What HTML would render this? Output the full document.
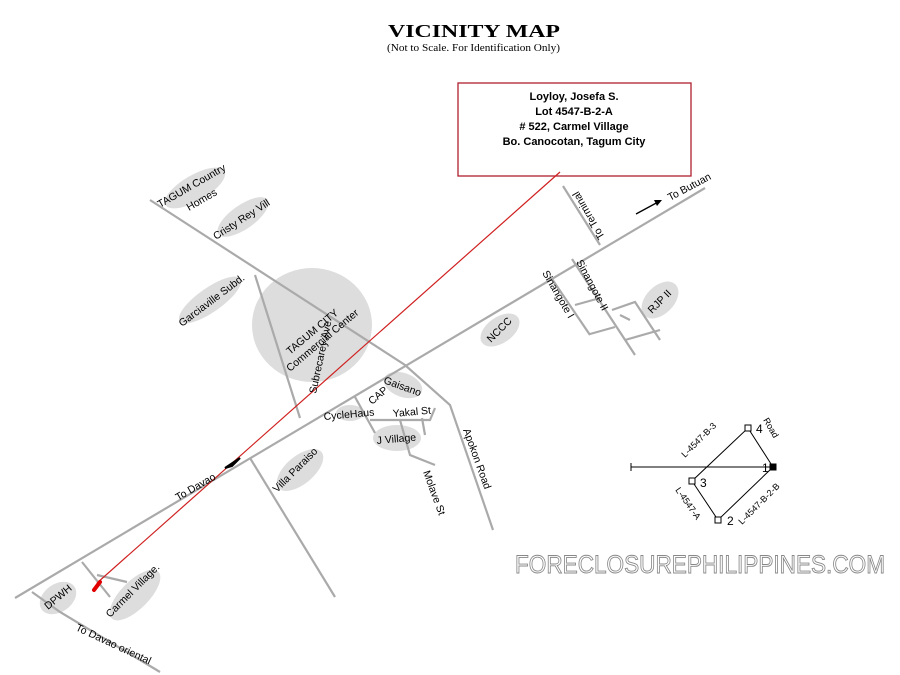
<!DOCTYPE html>
<html><head><meta charset="utf-8"><style>
html,body{margin:0;padding:0;background:#fff;}
svg{display:block;}
text{font-family:"Liberation Sans",sans-serif;font-size:10.5px;fill:#000;}
</style></head><body>
<svg width="900" height="675" viewBox="0 0 900 675" xmlns="http://www.w3.org/2000/svg">
<rect width="900" height="675" fill="#fff"/>
<text x="388" y="37" textLength="172" lengthAdjust="spacingAndGlyphs" style="font-family:'Liberation Serif',serif;font-size:18px;font-weight:bold">VICINITY MAP</text>
<text x="387" y="51" textLength="173" lengthAdjust="spacingAndGlyphs" style="font-family:'Liberation Serif',serif;font-size:10px">(Not to Scale. For Identification Only)</text>

<rect x="458" y="83" width="233" height="93" fill="none" stroke="#b02030" stroke-width="1.3"/>
<g text-anchor="middle">
<text x="574" y="100" style="font-size:11px;font-weight:bold">Loyloy, Josefa S.</text>
<text x="574" y="115" style="font-size:11px;font-weight:bold">Lot 4547-B-2-A</text>
<text x="574" y="130" style="font-size:11px;font-weight:bold"># 522, Carmel Village</text>
<text x="574" y="145" style="font-size:11px;font-weight:bold">Bo. Canocotan, Tagum City</text>
</g>

<g fill="#ddd">
<ellipse cx="312" cy="325" rx="60" ry="57"/>
<ellipse cx="195" cy="188" rx="34" ry="13" transform="rotate(-30 195 188)"/>
<ellipse cx="243" cy="217" rx="30" ry="12" transform="rotate(-35 243 217)"/>
<ellipse cx="210" cy="300" rx="37" ry="12" transform="rotate(-35 210 300)"/>
<ellipse cx="500" cy="330" rx="22" ry="13" transform="rotate(-35 500 330)"/>
<ellipse cx="660" cy="300" rx="22" ry="14" transform="rotate(-45 660 300)"/>
<ellipse cx="403" cy="385" rx="20" ry="12" transform="rotate(20 403 385)"/>
<ellipse cx="397" cy="438" rx="24" ry="13"/>
<ellipse cx="350" cy="413" rx="14" ry="8"/>
<ellipse cx="300" cy="470" rx="28" ry="14" transform="rotate(-40 300 470)"/>
<ellipse cx="58" cy="598" rx="20" ry="14" transform="rotate(-35 58 598)"/>
<ellipse cx="135" cy="595" rx="33" ry="14" transform="rotate(-45 135 595)"/>
</g>

<g stroke="#aaa" stroke-width="2.2" fill="none">
<line x1="15" y1="598" x2="705" y2="188"/>
<polyline points="150,200 405,365 450,405 493,530"/>
<line x1="255" y1="275" x2="300" y2="418"/>
<polyline points="32,592 60,612 160,672"/>
<polyline points="82,562 110,597"/>
<polyline points="97,575 127,582"/>
<line x1="250" y1="458" x2="335" y2="597"/>
<polyline points="355,397 375,433"/>
<polyline points="370,420 430,420 435,408"/>
<polyline points="400,420 410,455 435,465"/>
<line x1="422" y1="418" x2="425" y2="435"/>
<line x1="563" y1="186" x2="600" y2="245"/>
<line x1="550" y1="276" x2="590" y2="335"/>
<line x1="572" y1="259" x2="635" y2="355"/>
<polyline points="575,305 600,298"/>
<polyline points="590,334 615,327"/>
<polyline points="612,310 635,302 660,340"/>
<line x1="620" y1="315" x2="630" y2="320"/>
<line x1="625" y1="340" x2="660" y2="330"/>
</g>

<line x1="560" y1="172" x2="97" y2="583" stroke="#d02020" stroke-width="1.2"/>
<line x1="94" y1="590" x2="100" y2="582" stroke="#e00000" stroke-width="4" stroke-linecap="round"/>
<polygon points="225,468 240,458 232,466" fill="#000" stroke="#000" stroke-width="2"/>
<line x1="636" y1="214" x2="660" y2="201" stroke="#000" stroke-width="1.3"/>
<polygon points="662,200 654,200 657,206" fill="#000"/>

<text transform="translate(160,208) rotate(-30)">TAGUM Country</text>
<text transform="translate(189,211) rotate(-30)">Homes</text>
<text transform="translate(216,240) rotate(-33)">Cristy Rey Vill</text>
<text transform="translate(182,327) rotate(-37)">Garciaville Subd.</text>
<text transform="translate(290,355) rotate(-40)">TAGUM CITY</text>
<text transform="translate(290,372) rotate(-40)">Commercial Center</text>
<text transform="translate(316,394) rotate(-78)">Subrecarey Ave</text>
<text transform="translate(491,343) rotate(-45)">NCCC</text>
<text transform="translate(652,314) rotate(-45)">RJP II</text>
<text transform="translate(605,237) rotate(-120)">To Terminal</text>
<text transform="translate(670,201) rotate(-28)">To Butuan</text>
<text transform="translate(542,273) rotate(60)">Sinangote I</text>
<text transform="translate(576,262) rotate(62)">Sinangote II</text>
<text transform="translate(372,405) rotate(-40)">CAP</text>
<text transform="translate(383,383) rotate(20)">Gaisano</text>
<text transform="translate(324,420) rotate(-5)">CycleHaus</text>
<text transform="translate(393,417) rotate(-5)">Yakal St</text>
<text transform="translate(377,444) rotate(-5)">J Village</text>
<text transform="translate(463,430) rotate(70)">Apokon Road</text>
<text transform="translate(423,472) rotate(70)">Molave St</text>
<text transform="translate(178,501) rotate(-30)">To Davao</text>
<text transform="translate(277,493) rotate(-45)">Villa Paraiso</text>
<text transform="translate(48,610) rotate(-40)">DPWH</text>
<text transform="translate(110,618) rotate(-45)">Carmel Village.</text>
<text transform="translate(75,630) rotate(25)">To  Davao oriental</text>

<g stroke="#000" stroke-width="1" fill="none">
<line x1="631" y1="467" x2="775" y2="467"/>
<line x1="631" y1="463" x2="631" y2="471"/>
<polygon points="748,428 773,467 718,520 692,481"/>
<rect x="745" y="425" width="6" height="6" fill="#fff"/>
<rect x="689" y="478" width="6" height="6" fill="#fff"/>
<rect x="715" y="517" width="6" height="6" fill="#fff"/>
<rect x="770" y="464" width="6" height="6" fill="#000"/>
</g>
<text x="756" y="433" style="font-size:12px">4</text>
<text x="700" y="487" style="font-size:12px">3</text>
<text x="727" y="525" style="font-size:12px">2</text>
<text x="762" y="472" style="font-size:12px">1</text>
<text transform="translate(685,458) rotate(-45)" style="font-size:9px">L-4547-B-3</text>
<text transform="translate(675,490) rotate(55)" style="font-size:9px">L-4547-A</text>
<text transform="translate(742,525) rotate(-45)" style="font-size:9px">L-4547-B-2-B</text>
<text transform="translate(763,420) rotate(60)" style="font-size:9px">Road</text>

<text x="515" y="573" textLength="370" lengthAdjust="spacingAndGlyphs" style="font-size:25px;fill:#fff;stroke:#888;stroke-width:0.9">FORECLOSUREPHILIPPINES.COM</text>
</svg>
</body></html>
